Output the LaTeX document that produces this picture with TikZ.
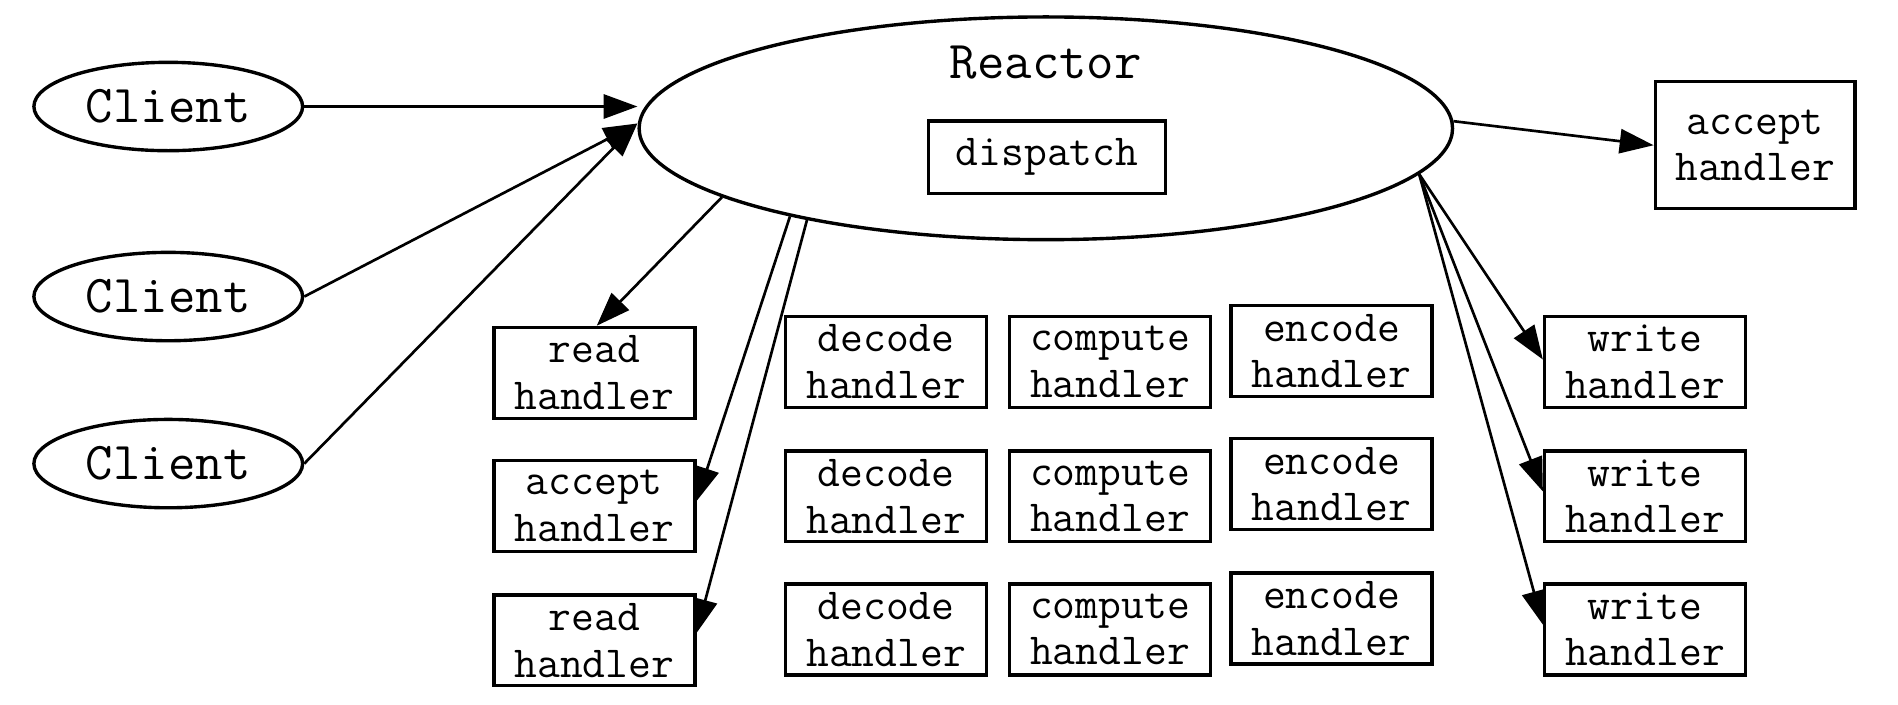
\documentclass[tikz,border=0pt]{standalone}
\usetikzlibrary{shapes.geometric,arrows.meta}
\begin{document}
\begin{tikzpicture}[x=0.5pt,y=-0.5pt,
  box/.style={draw,line width=1.4pt,rectangle,minimum width=83pt,minimum height=37.5pt,inner sep=0pt,align=center,font=\ttfamily\fontsize{18.3}{19.3}\selectfont},
  ell/.style={draw,line width=1.4pt,ellipse,inner sep=0pt,font=\ttfamily\fontsize{22}{24}\selectfont},
  client/.style={ell,minimum width=111pt,minimum height=36.5pt},
  conn/.style={line width=1.1pt,-{Triangle[length=14pt,width=10pt]}}]
\useasboundingbox (0,0) rectangle (1568,582);
% clients
\node[client] (c1) at (139,88) {Client};
\node[client] (c2) at (139,245) {Client};
\node[client] (c3) at (139,383) {Client};
% reactor
\node[ell,minimum width=336pt,minimum height=92pt] (reactor) at (864,106) {};
\node[font=\ttfamily\fontsize{22}{24}\selectfont,inner sep=0pt] (rlabel) at (864,52) {Reactor};
\node[box,minimum width=98pt,minimum height=30pt] (dispatch) at (865,130) {dispatch};
\node[box,minimum width=82.5pt,minimum height=52.5pt] (accR) at (1450,120) {accept\\handler};
% left column
\node[box] (read1) at (491,308) {read\\handler};
\node[box] (accL) at (491,418) {accept\\handler};
\node[box] (read2) at (491,529) {read\\handler};
% decode
\node[box] (dec1) at (732,299) {decode\\handler};
\node[box] (dec2) at (732,410) {decode\\handler};
\node[box] (dec3) at (732,520) {decode\\handler};
% compute
\node[box] (cmp1) at (917,299) {compute\\handler};
\node[box] (cmp2) at (917,410) {compute\\handler};
\node[box] (cmp3) at (917,520) {compute\\handler};
% encode
\node[box] (enc1) at (1100,290) {encode\\handler};
\node[box] (enc2) at (1100,400) {encode\\handler};
\node[box] (enc3) at (1100,511) {encode\\handler};
% write
\node[box] (wr1) at (1359,299) {write\\handler};
\node[box] (wr2) at (1359,410) {write\\handler};
\node[box] (wr3) at (1359,520) {write\\handler};
% connectors
\draw[conn] (c1.east) -- (c1.east -| reactor.west);
\draw[conn] (c2.east) -- ([yshift=2pt]reactor.west);
\draw[conn] (c3.east) -- ([yshift=2pt]reactor.west);
\draw[conn] (reactor.192) -- ([xshift=1pt]read1.north);
\draw[conn] (reactor.199) -- ([yshift=2pt]accL.east);
\draw[conn] (reactor.201) -- ([yshift=3pt]read2.east);
\draw[conn] (reactor.1) -- (accR.west);
\draw[conn] (reactor.353.6) -- ([yshift=1pt]wr1.west);
\draw[conn] (reactor.353.3) -- ([yshift=2pt]wr2.west);
\draw[conn] (reactor.353.0) -- ([yshift=2pt]wr3.west);
\end{tikzpicture}
\end{document}
